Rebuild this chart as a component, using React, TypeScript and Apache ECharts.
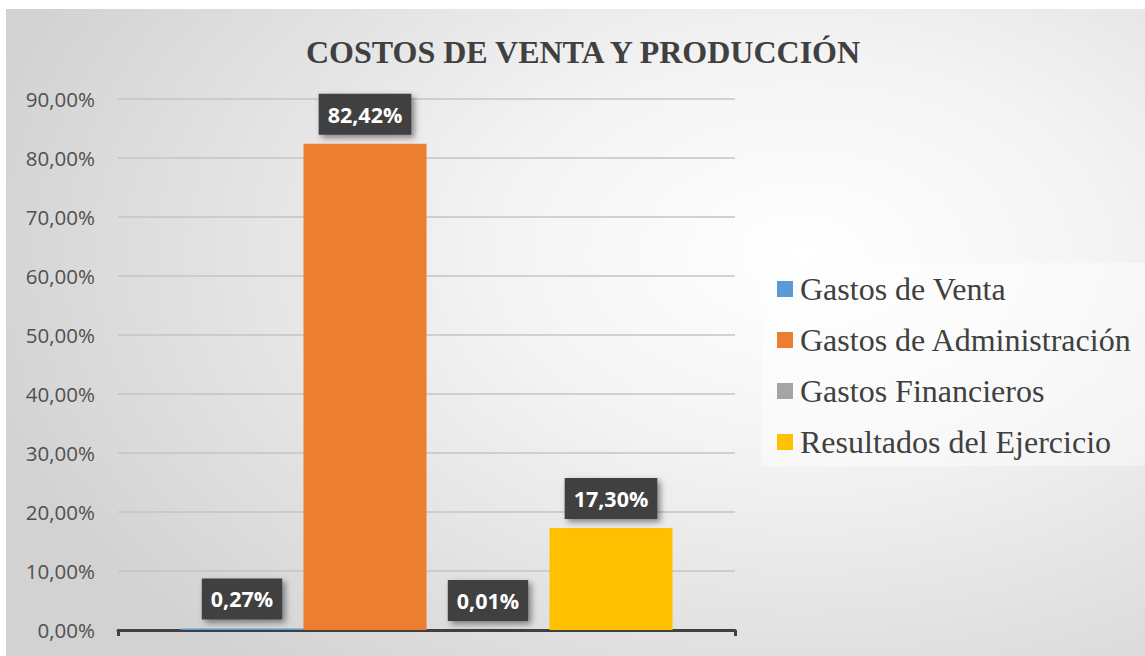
import React, { useEffect, useRef } from 'react';
import * as echarts from 'echarts';

const categories = [''];
const seriesNames = [
  'Gastos de Venta',
  'Gastos de Administración',
  'Gastos Financieros',
  'Resultados del Ejercicio',
];
const seriesValues = [0.27, 82.42, 0.01, 17.3];
const seriesColors = ['#5B9BD5', '#ED7D31', '#A5A5A5', '#FFC000'];
const yMin = 0;
const yMax = 90;
const yStep = 10;
const titleText = 'COSTOS DE VENTA Y PRODUCCIÓN';

const fmtPct = (v: number) => v.toFixed(2).replace('.', ',') + '%';

export default function App() {
  const ref = useRef<HTMLDivElement>(null);
  useEffect(() => {
    if (!ref.current) return;
    const chart = echarts.init(ref.current, null, { renderer: 'svg' });
    chart.setOption({
      animation: false,
      backgroundColor: 'transparent',
      title: {
        text: titleText,
        left: 572,
        top: 22,
        textAlign: 'center',
        textStyle: {
          fontFamily: '"Liberation Serif", "Times New Roman", serif',
          fontWeight: 'bold',
          fontSize: 32,
          color: '#404040',
        },
      },
      legend: {
        orient: 'vertical',
        left: 756,
        top: 254,
        padding: [10, 13, 8, 15],
        backgroundColor: 'rgba(255,255,255,0.45)',
        itemWidth: 16,
        itemHeight: 16,
        itemGap: 19,
        icon: 'rect',
        data: seriesNames,
        textStyle: {
          fontFamily: '"Liberation Serif", "Times New Roman", serif',
          fontSize: 32,
          color: '#404040',
          lineHeight: 30,
          padding: [0, 0, 0, 2],
        },
      },
      grid: { left: 112, right: 410, top: 90, bottom: 26 },
      xAxis: {
        type: 'category',
        data: categories,
        axisLine: { lineStyle: { color: '#404040', width: 3 } },
        axisTick: { show: true, length: 6, lineStyle: { color: '#404040', width: 3 } },
        axisLabel: { show: false },
      },
      yAxis: {
        type: 'value',
        min: yMin,
        max: yMax,
        interval: yStep,
        axisLine: { show: false },
        axisTick: { show: false },
        splitLine: { lineStyle: { color: '#c4c4c4', width: 1.5 } },
        axisLabel: {
          formatter: (v: number) => fmtPct(v),
          fontFamily: '"Open Sans", sans-serif',
          fontSize: 20.5,
          color: '#505050',
          margin: 23,
        },
      },
      series: seriesNames.map((name, i) => ({
        name,
        type: 'bar',
        data: [seriesValues[i]],
        barWidth: 123,
        barGap: '0%',
        itemStyle: { color: seriesColors[i] },
        label: {
          show: true,
          position: 'top',
          distance: 9,
          formatter: (p: any) => fmtPct(p.value),
          fontFamily: '"Open Sans", sans-serif',
          fontWeight: 'bold',
          fontSize: 21.5,
          lineHeight: 21,
          color: '#ffffff',
          backgroundColor: '#404040',
          padding: [10, 9, 10, 9],
          shadowColor: 'rgba(0,0,0,0.45)',
          shadowBlur: 6,
          shadowOffsetX: 3,
          shadowOffsetY: 3,
        },
      })),
    });
    return () => chart.dispose();
  }, []);
  return (
    <div
      style={{
        position: 'absolute',
        left: 6,
        top: 9,
        width: 1139,
        height: 647,
        background:
          'radial-gradient(ellipse 75% 85% at 70% 38%, #ffffff 0%, #f4f4f4 35%, #d2d2d2 100%)',
      }}
    >
      <div ref={ref} style={{ width: 1139, height: 647 }} />
    </div>
  );
}
